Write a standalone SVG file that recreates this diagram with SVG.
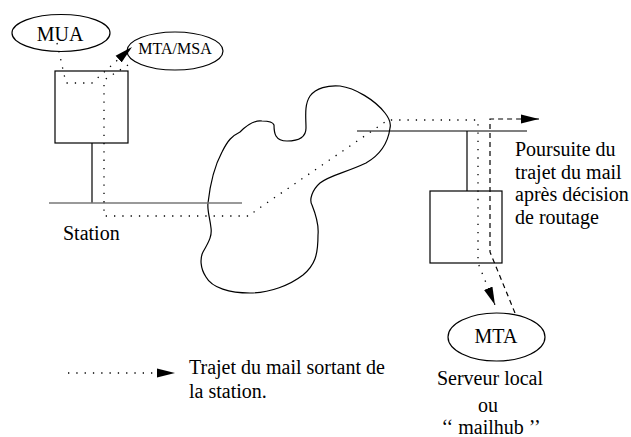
<svg xmlns="http://www.w3.org/2000/svg" width="631" height="437" viewBox="0 0 631 437">
<style>
.t{font-family:"Liberation Serif","Times New Roman",Times,"DejaVu Serif","Noto Serif",serif;font-size:20px;fill:#000}
.sm{font-size:16px}
.shape{fill:none;stroke:#000;stroke-width:1.2}
.net{fill:none;stroke:#777;stroke-width:1.6}
.dot{fill:none;stroke:#000;stroke-width:1.3;stroke-dasharray:1.3 7;stroke-linecap:butt}
.dash{fill:none;stroke:#000;stroke-width:1.2;stroke-dasharray:5 4}
</style>
<defs>
<marker id="ah" markerUnits="userSpaceOnUse" markerWidth="20" markerHeight="10" refX="18" refY="5" orient="auto" viewBox="0 0 20 10">
<path d="M0,0.5 L18,5 L0,9.5 z" fill="#000"/>
</marker>
</defs>
<rect width="631" height="437" fill="#fff"/>
<g id="cloud">
<path class="shape" d="M274,125 C274,133 275,141 287,141 C300,141 306,137 306,128 C306,118 304,105 310,96 C316,88 328,85 340,86 C355,88 375,100 385,113 C389,118 391,124 390,128 C388,143 380,155 366,163 C345,173 330,175 320,183 C312,190 309,200 312,205 C316,215 319,225 318,235 C318,255 315,265 303,275 C290,285 270,293 250,293 C230,293 212,288 206,277 C200,268 200,258 203,252 C210,240 212,235 211,228 C210,218 207,210 208,203 C210,185 215,165 222,152 C228,140 232,136 240,132 C248,124 255,120 262,121 C268,121 273,122 274,125 Z"/>
</g>
<g id="station">
<rect class="shape" x="55" y="71" width="73" height="72"/>
<line class="shape" x1="92" y1="143" x2="92" y2="203"/>
<line class="net" x1="49" y1="203" x2="242" y2="203"/>
<text class="t" x="63" y="240">Station</text>
</g>
<g id="mua">
<ellipse class="shape" cx="61" cy="33" rx="49" ry="18.5"/>
<text class="t" x="60" y="41" text-anchor="middle">MUA</text>
</g>
<g id="mta-msa">
<ellipse class="shape" cx="175" cy="51" rx="48" ry="19"/>
<text class="t sm" x="175" y="53.5" text-anchor="middle">MTA/MSA</text>
</g>
<g id="server">
<line class="shape" x1="357" y1="131" x2="527" y2="131"/>
<line class="shape" x1="467" y1="131" x2="467" y2="191"/>
<rect class="shape" x="430" y="191" width="72" height="72"/>
</g>
<g id="mta">
<ellipse class="shape" cx="496.5" cy="337" rx="48.5" ry="24"/>
<text class="t" x="496" y="343" text-anchor="middle">MTA</text>
<text class="t" x="490" y="385" text-anchor="middle">Serveur local</text>
<text class="t" x="488" y="411.5" text-anchor="middle">ou</text>
<text class="t" x="491" y="434" text-anchor="middle">‘‘ mailhub ’’</text>
</g>
<g id="routing-label">
<text class="t" x="515" y="156">Poursuite du</text>
<text class="t" x="515" y="178.5">trajet du mail</text>
<text class="t" x="515" y="201">après décision</text>
<text class="t" x="515" y="223.5">de routage</text>
</g>
<g id="connectors">
<path class="dot" d="M57,43 L66,83 L92,83 L132,47" marker-end="url(#ah)"/>
<path class="dot" d="M128,65 L104,80 L104,216 L250,216 L255,211 L388,120 L478,120 L478,263 L495,305" marker-end="url(#ah)"/>
<path class="dash" d="M515,313 L490,252 L490,119 L539,119" marker-end="url(#ah)"/>
<path class="dot" d="M68,373 L175,373" marker-end="url(#ah)"/>
</g>
<g id="legend">
<text class="t" x="189" y="374">Trajet du mail sortant de</text>
<text class="t" x="189" y="398">la station.</text>
</g>
</svg>
